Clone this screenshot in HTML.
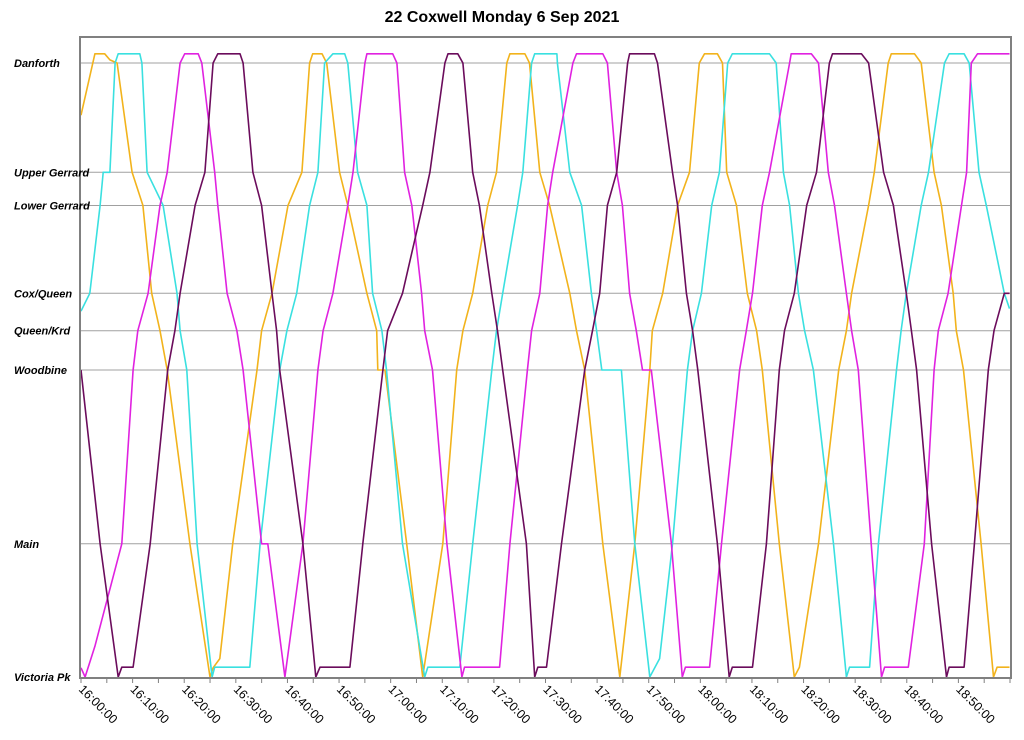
<!DOCTYPE html>
<html><head><meta charset="utf-8"><style>
body{margin:0;background:#fff}
svg{display:block;font-family:"Liberation Sans",sans-serif}
</style></head><body>
<svg id="chart" width="1024" height="740" viewBox="0 0 1024 740" xmlns="http://www.w3.org/2000/svg">
<text x="502" y="22" text-anchor="middle" font-size="16" font-weight="bold">22 Coxwell Monday 6 Sep 2021</text>
<g id="grid"></g>
<g id="series"></g>
<rect x="80" y="37" width="931" height="641" fill="none" stroke="#808080" stroke-width="2"/>
<g id="axes"></g>
</svg>
<script>
const stationNames=["Danforth","Upper Gerrard","Lower Gerrard","Cox/Queen","Queen/Krd","Woodbine","Main","Victoria Pk"];
const stationPos=[100,82.2,76.8,62.5,56.4,50,21.7,0];
const tickLabels=["16:00:00","16:10:00","16:20:00","16:30:00","16:40:00","16:50:00","17:00:00","17:10:00","17:20:00","17:30:00","17:40:00","17:50:00","18:00:00","18:10:00","18:20:00","18:30:00","18:40:00","18:50:00"];
const orangeT=[0,2.7,4.6,5.6,7.0,9.9,12.0,13.7,15.3,16.7,21.1,25.0,25.6,26.9,29.4,34.1,35.0,37.0,40.1,42.8,44.3,44.9,46.7,47.6,50.1,51.7,55.4,57.3,57.5,58.9,63.1,66.2,70.1,72.8,74.0,75.9,78.8,80.5,82.5,83.1,86.0,86.9,88.9,90.8,94.7,96.0,97.6,101.1,104.4,107.3,110.2,110.7,112.7,115.6,117.9,119.8,120.8,123.3,124.3,125.1,127.0,129.1,130.9,132.0,135.3,138.2,139.2,142.9,146.8,148.3,149.3,152.6,153.7,156.4,157.0,161.5,162.8,165.3,166.7,169.0,169.6,171.0,174.4,176.8,177.5,179.9];
const orangeV=[91.5,101.5,101.5,100.5,100,82.2,76.8,62.5,56.4,50,21.7,0,1.5,3,21.7,50,56.4,62.5,76.8,82.2,100,101.5,101.5,100,82.2,76.8,62.5,56.4,50,50,21.7,0,21.7,50,56.4,62.5,76.8,82.2,100,101.5,101.5,100,82.2,76.8,62.5,56.4,50,21.7,0,21.7,50,56.4,62.5,76.8,82.2,100,101.5,101.5,100,82.2,76.8,62.5,56.4,50,21.7,0,1.6,21.7,50,56.4,62.5,76.8,82.2,100,101.5,101.5,100,82.2,76.8,62.5,56.4,50,21.7,0,1.6,1.6];
const cyanT=[0,1.7,3.7,4.3,5.6,6.6,7.2,11.4,11.8,12.8,15.9,18.6,19.2,20.5,22.5,25.4,25.9,32.7,34.7,38.5,39.9,41.8,44.3,45.9,47.2,48.8,51.1,51.7,53.6,55.4,56.5,58.3,59.2,62.3,66.6,67.2,73.4,75.9,79.6,80.5,81.7,84.6,85.6,87.3,87.9,92.2,92.3,94.7,97.0,98.9,99.9,100.9,104.7,107.3,110.2,112.1,114.6,117.5,118.5,120.2,122.2,123.7,125.3,126.2,133.4,134.7,136.1,137.3,139.0,140.2,141.9,145.8,148.3,148.9,152.8,154.5,158.0,158.9,159.9,162.8,164.2,167.3,168.2,171.1,172.1,174.0,175.4,178.9,179.9];
const cyanV=[59.6,62.5,76.8,82.2,82.2,100,101.5,101.5,100,82.2,76.8,62.5,56.4,50,21.7,0,1.6,1.6,21.7,50,56.4,62.5,76.8,82.2,100,101.5,101.5,100,82.2,76.8,62.5,56.4,50,21.7,0,1.6,1.6,21.7,50,56.4,62.5,76.8,82.2,100,101.5,101.5,100,82.2,76.8,62.5,56.4,50,50,21.7,0,3,21.7,50,56.4,62.5,76.8,82.2,100,101.5,101.5,100,82.2,76.8,62.5,56.4,50,21.7,0,1.6,1.6,21.7,50,56.4,62.5,76.8,82.2,100,101.5,101.5,100,82.2,76.8,62.5,60];
const magentaT=[0,0.8,2.7,7.9,10.1,11.0,13.0,15.3,16.7,19.2,20.1,22.7,23.4,25.9,26.5,28.3,30.2,31.4,35.0,36.2,39.5,43.0,45.9,46.9,48.8,51.7,52.7,55.0,55.4,60.4,61.2,62.7,64.1,66.0,66.6,68.1,70.9,73.8,74.3,81.1,83.1,86.5,87.3,88.9,90.4,91.4,95.3,96.0,101.1,102.0,103.8,104.9,106.3,107.6,108.8,110.5,114.4,116.5,117.1,121.8,124.1,127.6,128.9,130.1,132.0,133.4,137.3,137.6,141.5,142.9,144.8,146.0,148.3,149.3,150.6,153.1,155.1,155.7,160.3,163.4,165.3,166.1,168.0,170.6,171.6,172.5,173.7,179.9];
const magentaV=[1.5,0,5,21.7,50,56.4,62.5,76.8,82.2,100,101.5,101.5,100,82.2,76.8,62.5,56.4,50,21.7,21.7,0,21.7,50,56.4,62.5,76.8,82.2,100,101.5,101.5,100,82.2,76.8,62.5,56.4,50,21.7,0,1.6,1.6,21.7,50,56.4,62.5,76.8,82.2,100,101.5,101.5,100,82.2,76.8,62.5,56.4,50,50,21.7,0,1.6,1.6,21.7,50,56.4,62.5,76.8,82.2,100,101.5,101.5,100,82.2,76.8,62.5,56.4,50,21.7,0,1.6,1.6,21.7,50,56.4,62.5,76.8,82.2,100,101.5,101.5];
const purpleT=[0,3.7,7.2,7.9,10.1,13.4,16.8,18.2,19.2,22.1,24.0,25.6,26.5,30.8,31.4,33.3,35.0,37.0,37.9,38.5,43.0,45.5,46.3,52.1,54.6,58.5,59.4,62.3,66.2,67.6,70.5,71.1,73.0,74.0,75.9,77.2,79.6,80.7,81.7,86.3,87.9,88.5,90.2,93.1,97.6,99.1,100.5,102.0,103.8,105.9,106.3,111.1,111.7,114.6,115.6,117.3,118.5,119.5,123.3,125.6,126.2,130.1,132.8,135.3,136.3,138.2,140.6,142.5,145.0,145.6,151.2,152.6,155.5,157.4,159.9,160.9,161.9,164.8,167.7,168.2,171.1,173.1,175.8,176.9,178.9,179.9];
const purpleV=[50,21.7,0,1.6,1.6,21.7,50,56.4,62.5,76.8,82.2,100,101.5,101.5,100,82.2,76.8,62.5,56.4,50,21.7,0,1.6,1.6,21.7,50,56.4,62.5,76.8,82.2,100,101.5,101.5,100,82.2,76.8,62.5,56.4,50,21.7,0,1.6,1.6,21.7,50,56.4,62.5,76.8,82.2,100,101.5,101.5,100,82.2,76.8,62.5,56.4,50,21.7,0,1.6,1.6,21.7,50,56.4,62.5,76.8,82.2,100,101.5,101.5,100,82.2,76.8,62.5,56.4,50,21.7,0,1.6,1.6,21.7,50,56.4,62.5,62.5];

const NS="http://www.w3.org/2000/svg";
const X0=81,X1=1010,T0=0,T1=180,Y0=677,Y1=63;
function xs(t){return X0+(t-T0)/(T1-T0)*(X1-X0);}
function ys(v){return Y0-v/100*(Y0-Y1);}
const grid=document.getElementById('grid'),axes=document.getElementById('axes'),ser=document.getElementById('series');
stationNames.forEach((n,i)=>{
  const y=ys(stationPos[i]);
  if(i<stationNames.length-1){
    const l=document.createElementNS(NS,'line');
    
    
    l.setAttribute('x1',80);l.setAttribute('x2',1011);l.setAttribute('y1',y);l.setAttribute('y2',y);
    l.setAttribute('stroke','#a0a0a0');l.setAttribute('stroke-width','1');
    grid.appendChild(l);
  }
  const t=document.createElementNS(NS,'text');
  
  
  t.setAttribute('x',14);t.setAttribute('y',y+4);
  t.setAttribute('font-size','11');t.setAttribute('font-weight','bold');t.setAttribute('font-style','italic');
  t.textContent=n;axes.appendChild(t);
});
for(let m=0;m<=180;m+=5){
  const x=xs(m);
  const tk=document.createElementNS(NS,'line');
  
  
  tk.setAttribute('x1',x);tk.setAttribute('x2',x);tk.setAttribute('y1',678);tk.setAttribute('y2',683);
  tk.setAttribute('stroke','#808080');axes.appendChild(tk);
}
tickLabels.forEach((s,i)=>{
  const x=xs(i*10);
  const t=document.createElementNS(NS,'text');
  
  
  t.setAttribute('transform','translate('+(x-3)+',690) rotate(45)');
  t.setAttribute('font-size','12.5');
  t.textContent=s;axes.appendChild(t);
});
function draw(T,V,col,name){
  const p=document.createElementNS(NS,'path');
  
  
  p.setAttribute('d',T.map((t,i)=>(i?'L':'M')+xs(t).toFixed(1)+','+ys(V[i]).toFixed(1)).join(''));
  p.setAttribute('fill','none');p.setAttribute('stroke',col);p.setAttribute('stroke-width','1.6');
  p.setAttribute('stroke-linejoin','round');
  ser.appendChild(p);
}
draw(orangeT,orangeV,'#f2b31c','series-orange-bus');
draw(cyanT,cyanV,'#3ae0e0','series-cyan-bus');
draw(magentaT,magentaV,'#e022e0','series-magenta-bus');
draw(purpleT,purpleV,'#6b0c5c','series-purple-bus');
</script>
</body></html>
